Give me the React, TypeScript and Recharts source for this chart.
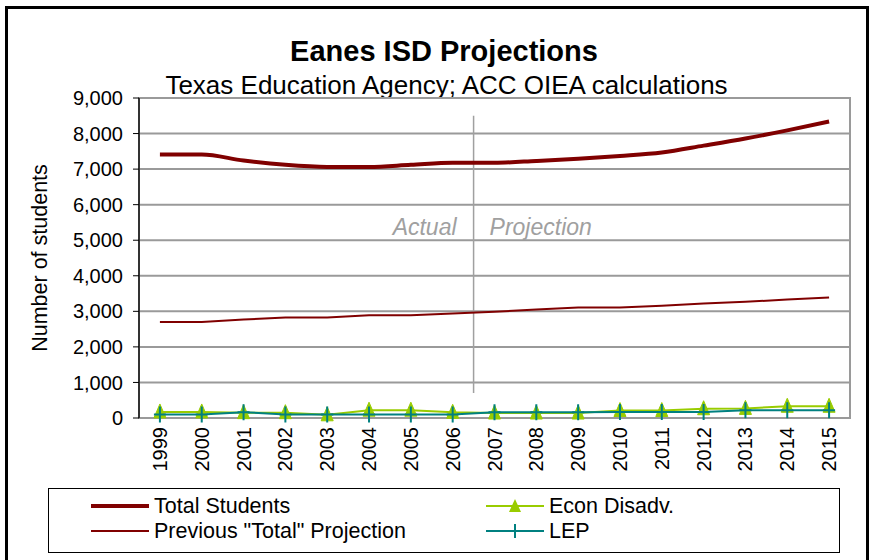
import React from 'react';
import {
  LineChart, Line, XAxis, YAxis, CartesianGrid, ReferenceLine, ReferenceDot, ReferenceArea, Label,
} from 'recharts';

// Values (students per year).
const years = ['1999', '2000', '2001', '2002', '2003', '2004', '2005', '2006', '2007', '2008', '2009', '2010', '2011', '2012', '2013', '2014', '2015'];
const totalStudents = [7410, 7410, 7240, 7120, 7060, 7060, 7120, 7180, 7180, 7230, 7290, 7370, 7470, 7660, 7860, 8090, 8340];
const prevProjection = [2700, 2700, 2770, 2830, 2830, 2890, 2890, 2940, 2990, 3050, 3110, 3110, 3160, 3220, 3270, 3330, 3390];
const econDisadv = [170, 170, 150, 150, 90, 220, 220, 160, 140, 140, 140, 210, 210, 260, 270, 330, 330];
const lep = [100, 100, 165, 100, 100, 100, 100, 100, 160, 160, 160, 170, 170, 170, 215, 215, 215];
const yTicks = [0, 1000, 2000, 3000, 4000, 5000, 6000, 7000, 8000, 9000];

const data = years.map((year, i) => ({
  idx: i,
  year,
  total: totalStudents[i],
  prev: prevProjection[i],
  econ: econDisadv[i],
  lep: lep[i],
}));

// year index positions and the boundaries between them (Excel-style category ticks)
const centers = years.map((_, i) => i);
const boundaries = Array.from({ length: years.length + 1 }, (_, i) => i - 0.5);
const X_DOMAIN = [-0.5, years.length - 0.5];
const SPLIT = 7.5; // between 2006 (actual) and 2007 (projection)

const DARK_RED = '#800000';
const GREEN = '#99CC00';
const TEAL = '#008080';
const GRID = '#9a9a9a';
const FONT = '"Liberation Sans", Arial, sans-serif';

function TriangleDot(props: any) {
  const { cx, cy, index } = props;
  if (cx == null || cy == null) return null;
  return (
    <polygon
      key={`tri-${index}`}
      points={`${cx},${cy - 8} ${cx - 6},${cy + 6} ${cx + 6},${cy + 6}`}
      fill={GREEN}
      stroke={GREEN}
    />
  );
}

function PlusDot(props: any) {
  const { cx, cy, index } = props;
  if (cx == null || cy == null) return null;
  return (
    <path
      key={`plus-${index}`}
      d={`M${cx - 6},${cy}H${cx + 6}M${cx},${cy - 8}V${cy + 8}`}
      stroke={TEAL}
      strokeWidth={2}
      fill="none"
    />
  );
}

function YearTick(props: any) {
  const { x, y, payload } = props;
  const ty = y + 1;
  return (
    <text
      x={x}
      y={ty}
      transform={`rotate(-90 ${x} ${ty})`}
      textAnchor="end"
      dominantBaseline="central"
      fontSize={20}
      fill="#000"
    >
      {years[payload.value]}
    </text>
  );
}

function LegendSample({ color, width, marker }: { color: string; width: number; marker?: 'tri' | 'plus' }) {
  return (
    <svg width={58} height={16} style={{ display: 'block' }}>
      <line x1={0} x2={58} y1={8} y2={8} stroke={color} strokeWidth={width} />
      {marker === 'tri' && <polygon points="29,1 23,14 35,14" fill={color} />}
      {marker === 'plus' && <path d="M23,8H35M29,1V15" stroke={color} strokeWidth={2} />}
    </svg>
  );
}

function LegendItem({ left, top, label, children }: { left: number; top: number; label: string; children: React.ReactNode }) {
  return (
    <div style={{ position: 'absolute', left, top, display: 'flex', alignItems: 'center', height: 22 }}>
      {children}
      <span style={{ marginLeft: 5, fontSize: 21.5, lineHeight: '22px', color: '#000' }}>{label}</span>
    </div>
  );
}

export default function App() {
  return (
    <div style={{ position: 'absolute', left: 0, top: 0, width: 870, height: 560, overflow: 'hidden', background: '#fff', fontFamily: FONT }}>
      {/* outer chart frame */}
      <div style={{ position: 'absolute', left: 5, top: 6, width: 858, height: 620, border: '3px solid #000' }} />

      <div style={{ position: 'absolute', left: 0, width: 888, top: 35, textAlign: 'center', fontSize: 29, fontWeight: 'bold', lineHeight: '32px' }}>
        Eanes ISD Projections
      </div>
      <div style={{ position: 'absolute', left: 0, width: 893, top: 70, textAlign: 'center', fontSize: 26, lineHeight: '30px' }}>
        Texas Education Agency; ACC OIEA calculations
      </div>

      <div style={{ position: 'absolute', left: 0, top: 0 }}>
        <LineChart width={870} height={560} data={data} margin={{ top: 98, right: 20, bottom: 62, left: 0 }}>
          <CartesianGrid vertical={false} stroke={GRID} strokeWidth={2} />
          <XAxis
            xAxisId="grid"
            dataKey="idx"
            type="number"
            domain={X_DOMAIN}
            ticks={boundaries}
            tick={false}
            tickLine={{ stroke: '#000' }}
            tickSize={6}
            axisLine={{ stroke: '#000', strokeWidth: 2 }}
            height={0}
            allowDataOverflow
          />
          <XAxis
            dataKey="idx"
            type="number"
            domain={X_DOMAIN}
            ticks={centers}
            interval={0}
            axisLine={false}
            tickLine={false}
            height={80}
            tick={<YearTick />}
            allowDataOverflow
          />
          <YAxis
            domain={[0, 9000]}
            ticks={yTicks}
            interval={0}
            width={139}
            tickFormatter={(v) => v.toLocaleString('en-US')}
            tick={{ fill: '#000', fontSize: 20 }}
            tickLine={{ stroke: '#000' }}
            tickSize={6}
            tickMargin={10}
            axisLine={{ stroke: '#333', strokeWidth: 2 }}
          >
            <Label
              content={({ viewBox }: any) => {
                const cx = viewBox.x + 40;
                const cy = viewBox.y + viewBox.height / 2;
                return (
                  <text x={cx} y={cy} transform={`rotate(-90 ${cx} ${cy})`} textAnchor="middle" dominantBaseline="central" fontSize={21.5} fill="#000">
                    Number of students
                  </text>
                );
              }}
            />
          </YAxis>

          <ReferenceArea x1={X_DOMAIN[0]} x2={X_DOMAIN[1]} y1={0} y2={9000} fill="none" stroke={GRID} strokeWidth={2} />
          <ReferenceLine segment={[{ x: SPLIT, y: 8500 }, { x: SPLIT, y: 700 }]} stroke="#a0a0a0" strokeWidth={1.5} />
          <ReferenceDot
            x={SPLIT}
            y={5380}
            r={0}
            stroke="none"
            label={{ value: 'Actual', position: 'left', offset: 17, fill: '#a0a0a0', fontSize: 23, fontStyle: 'italic' }}
          />
          <ReferenceDot
            x={SPLIT}
            y={5380}
            r={0}
            stroke="none"
            label={{ value: 'Projection', position: 'right', offset: 16, fill: '#a0a0a0', fontSize: 23, fontStyle: 'italic' }}
          />

          <Line type="monotone" dataKey="total" stroke={DARK_RED} strokeWidth={4} dot={false} isAnimationActive={false} />
          <Line type="linear" dataKey="prev" stroke={DARK_RED} strokeWidth={2} dot={false} isAnimationActive={false} />
          <Line type="linear" dataKey="econ" stroke={GREEN} strokeWidth={2} dot={<TriangleDot />} isAnimationActive={false} />
          <Line type="linear" dataKey="lep" stroke={TEAL} strokeWidth={2} dot={<PlusDot />} isAnimationActive={false} />
        </LineChart>
      </div>

      {/* legend */}
      <div style={{ position: 'absolute', left: 48, top: 488, width: 790, height: 63, border: '1px solid #000' }}>
        <LegendItem left={42} top={6} label="Total Students">
          <LegendSample color={DARK_RED} width={4} />
        </LegendItem>
        <LegendItem left={42} top={31} label={'Previous "Total" Projection'}>
          <LegendSample color={DARK_RED} width={2} />
        </LegendItem>
        <LegendItem left={437} top={6} label="Econ Disadv.">
          <LegendSample color={GREEN} width={2} marker="tri" />
        </LegendItem>
        <LegendItem left={437} top={31} label="LEP">
          <LegendSample color={TEAL} width={2} marker="plus" />
        </LegendItem>
      </div>
    </div>
  );
}
